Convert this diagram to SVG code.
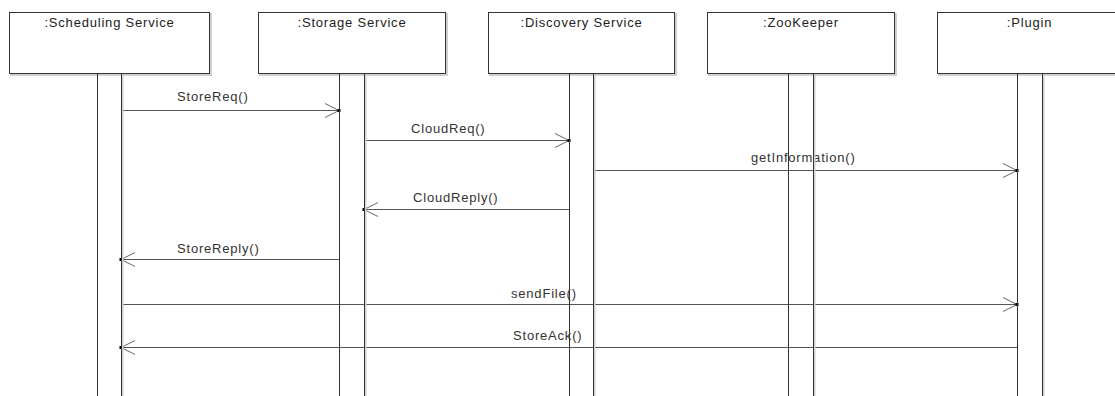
<svg xmlns="http://www.w3.org/2000/svg" width="1115" height="396" viewBox="0 0 1115 396">
  <style>
    .bg { fill: #ffffff; }
    .shadow { fill: none; stroke: #d0d0d0; stroke-width: 2; }
    .box { fill: #ffffff; stroke: #333333; stroke-width: 1; }
    .bar { fill: none; stroke: #333333; stroke-width: 1; }
    .title { font-family: "Liberation Sans", Arial, sans-serif; font-size: 13px; letter-spacing: 0.8px; fill: #222222; text-anchor: middle; }
    .label { font-family: "Liberation Sans", Arial, sans-serif; font-size: 13px; letter-spacing: 0.8px; fill: #333333; }
    .msg { stroke: #555555; stroke-width: 1; fill: none; }
    .head { stroke: #666666; stroke-width: 1; fill: none; }
    .tip { fill: #000000; }
  </style>
  <defs>
    <!-- open arrowhead pointing right, tip at origin -->
    <g id="headR">
      <path class="head" d="M -14 -7 L 0 0 L -14 7"/>
      <rect class="tip" x="-1.5" y="-1.5" width="3" height="3"/>
    </g>
    <!-- open arrowhead pointing left, tip at origin -->
    <g id="headL">
      <path class="head" d="M 14 -7 L 0 0 L 14 7"/>
      <rect class="tip" x="-1.5" y="-1.5" width="3" height="3"/>
    </g>
  </defs>

  <rect class="bg" x="0" y="0" width="1115" height="396"/>

  <!-- message labels (drawn first so lifeline bars sit on top) -->
  <g id="labels">
    <text class="label" x="177" y="101">StoreReq()</text>
    <text class="label" x="411" y="133">CloudReq()</text>
    <text class="label" x="751" y="162">getInformation()</text>
    <text class="label" x="413" y="202">CloudReply()</text>
    <text class="label" x="177" y="253">StoreReply()</text>
    <text class="label" x="511" y="298">sendFile()</text>
    <text class="label" x="513" y="340">StoreAck()</text>
  </g>

  <!-- messages -->
  <g id="connectors">
    <line class="msg" x1="121" y1="110.5" x2="339" y2="110.5"/>
    <use href="#headR" x="339" y="110.5"/>

    <line class="msg" x1="364" y1="140.5" x2="569" y2="140.5"/>
    <use href="#headR" x="569" y="140.5"/>

    <line class="msg" x1="593" y1="170.5" x2="1017" y2="170.5"/>
    <use href="#headR" x="1017" y="170.5"/>

    <line class="msg" x1="569" y1="209.5" x2="364" y2="209.5"/>
    <use href="#headL" x="364" y="209.5"/>

    <line class="msg" x1="339" y1="259.5" x2="121" y2="259.5"/>
    <use href="#headL" x="121" y="259.5"/>

    <line class="msg" x1="121" y1="304.5" x2="1017" y2="304.5"/>
    <use href="#headR" x="1017" y="304.5"/>

    <line class="msg" x1="1017" y1="347.5" x2="121" y2="347.5"/>
    <use href="#headL" x="121" y="347.5"/>
  </g>

  <!-- lifelines -->
  <g id="scheduling">
    <rect class="shadow" x="11" y="14" width="200" height="61"/>
    <rect class="box" x="9.5" y="12.5" width="200" height="61"/>
    <text class="title" x="109.5" y="27">:Scheduling Service</text>
    <line class="shadow" x1="122.5" y1="75" x2="122.5" y2="400"/>
    <rect class="bar" x="97.5" y="73.5" width="24" height="330"/>
  </g>

  <g id="storage">
    <rect class="shadow" x="260" y="14" width="187" height="61"/>
    <rect class="box" x="258.5" y="12.5" width="187" height="61"/>
    <text class="title" x="352" y="27">:Storage Service</text>
    <line class="shadow" x1="365.5" y1="75" x2="365.5" y2="400"/>
    <rect class="bar" x="339.5" y="73.5" width="25" height="330"/>
  </g>

  <g id="discovery">
    <rect class="shadow" x="490" y="14" width="186" height="61"/>
    <rect class="box" x="488.5" y="12.5" width="186" height="61"/>
    <text class="title" x="581.5" y="27">:Discovery Service</text>
    <line class="shadow" x1="594.5" y1="75" x2="594.5" y2="400"/>
    <rect class="bar" x="569.5" y="73.5" width="24" height="330"/>
  </g>

  <g id="zookeeper">
    <rect class="shadow" x="709" y="14" width="187" height="61"/>
    <rect class="box" x="707.5" y="12.5" width="187" height="61"/>
    <text class="title" x="801" y="27">:ZooKeeper</text>
    <line class="shadow" x1="814.5" y1="75" x2="814.5" y2="400"/>
    <rect class="bar" x="788.5" y="73.5" width="25" height="330"/>
  </g>

  <g id="plugin">
    <rect class="shadow" x="939" y="14" width="184" height="61"/>
    <rect class="box" x="937.5" y="12.5" width="184" height="61"/>
    <text class="title" x="1029.5" y="27">:Plugin</text>
    <line class="shadow" x1="1043.5" y1="75" x2="1043.5" y2="400"/>
    <rect class="bar" x="1017.5" y="73.5" width="25" height="330"/>
  </g>
</svg>
